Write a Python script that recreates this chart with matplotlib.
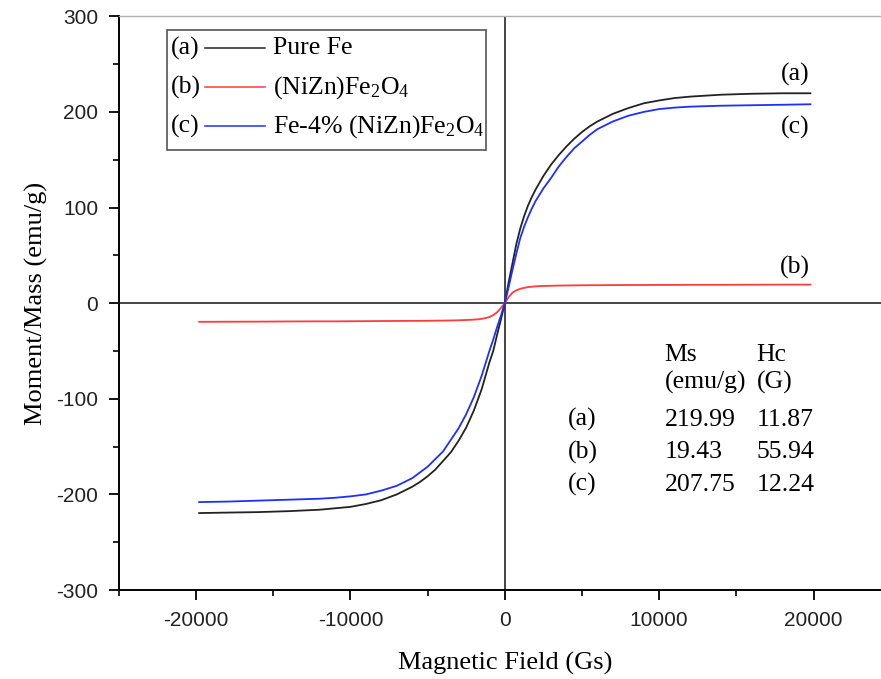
import numpy as np
import matplotlib.pyplot as plt
from matplotlib.patches import Rectangle
from matplotlib.ticker import MultipleLocator

plt.rcParams['mathtext.fontset'] = 'custom'
plt.rcParams['mathtext.rm'] = 'Liberation Serif'
plt.rcParams['mathtext.it'] = 'Liberation Serif:italic'
plt.rcParams['axes.unicode_minus'] = False

# applied field (Gs)
field = [-19800, -18000, -16000, -14000, -12000, -11000, -10000, -9000, -8000,
         -7000, -6000, -5500, -5000, -4500, -4000, -3500, -3000, -2500, -2000,
         -1750, -1500, -1250, -1000, -750, -500, -250, 0,
         250, 500, 750, 1000, 1250, 1500, 1750, 2000, 2500, 3000, 3500, 4000,
         4500, 5000, 5500, 6000, 7000, 8000, 9000, 10000, 11000, 12000, 14000,
         16000, 18000, 19800]

# moment/mass (emu/g)
pure_fe = [-219.5, -219, -218.5, -217.5, -216, -214.5, -213, -210, -206,
           -200, -192, -187, -181, -174, -165, -156, -144, -130, -112,
           -101, -90, -76, -62, -50, -33, -17, 0,
           22, 42, 62, 78, 91, 102, 111, 119, 133, 145, 155, 164,
           172, 179, 185, 190, 198, 204, 209, 212, 214.5, 216, 218,
           219, 219.5, 219.5]
nizn_ferrite = [-19.5, -19.4, -19.3, -19.1, -19.0, -19.0, -18.9, -18.8, -18.7,
                -18.6, -18.5, -18.5, -18.4, -18.3, -18.2, -18.1, -17.9, -17.6, -17.2,
                -16.9, -16.4, -15.6, -14.5, -12.5, -9.5, -5, 0,
                6.5, 11, 13.5, 15, 16, 16.8, 17.2, 17.6, 18.0, 18.2, 18.4, 18.5,
                18.6, 18.7, 18.8, 18.8, 18.9, 19.0, 19.0, 19.1, 19.1, 19.2, 19.2,
                19.3, 19.4, 19.4]
fe_4pct = [-208, -207.5, -206.5, -205.5, -204.5, -203.5, -202, -200, -196,
           -191, -183, -177, -171, -163, -155, -143, -131, -116, -98,
           -87, -76, -63, -50, -38, -25, -13, 0,
           17, 35, 52, 68, 80, 90, 99, 107, 120, 131, 143, 153,
           162, 169, 176, 182, 190, 196, 200, 203, 204.5, 205.5, 206.5,
           207, 207.5, 208]

tags = ['(a)', '(b)', '(c)']
names = ['Pure Fe', '(NiZn)Fe$_\\mathrm{2}$O$_\\mathrm{4}$',
         'Fe-4% (NiZn)Fe$_\\mathrm{2}$O$_\\mathrm{4}$']
colors = ['#222222', '#ff3b3b', '#1f2eff']
ms_vals = ['219.99', '19.43', '207.75']
hc_vals = ['11.87', '55.94', '12.24']

serif = 'Liberation Serif'
sans = 'Liberation Sans'
fs = 18.5

fig = plt.figure(figsize=(8.81, 6.79), dpi=100)
ax = fig.add_axes([0.135, 0.131, 0.876, 0.845])

ax.axhline(0, color='#444444', lw=1.4, zorder=1)
ax.axvline(0, color='#444444', lw=1.4, zorder=1)

for ys, c in zip([pure_fe, nizn_ferrite, fe_4pct], colors):
    ax.plot(field, ys, color=c, lw=1.3, zorder=3)

ax.set_xlim(-25000, 25000)
ax.set_ylim(-300, 300)
ax.xaxis.set_major_locator(MultipleLocator(10000))
ax.xaxis.set_minor_locator(MultipleLocator(5000))
ax.yaxis.set_major_locator(MultipleLocator(100))
ax.yaxis.set_minor_locator(MultipleLocator(50))
ax.tick_params(which='major', direction='out', length=7, width=1.3,
               labelsize=15, pad=8)
ax.tick_params(which='minor', direction='out', length=4, width=1.2)
for lab in ax.get_xticklabels() + ax.get_yticklabels():
    lab.set_fontfamily(sans)
    lab.set_color('#222222')

ax.spines['left'].set_linewidth(1.4)
ax.spines['bottom'].set_linewidth(1.4)
ax.spines['top'].set_color('#b0b0b0')
ax.spines['top'].set_linewidth(1.0)
ax.spines['right'].set_visible(False)

ax.set_xlabel('Magnetic Field (Gs)', family=serif, fontsize=19, labelpad=16)
ax.set_ylabel('Moment/Mass (emu/g)', family=serif, fontsize=19, labelpad=6)

# curve tags
ax.text(18800, 239, '(a)', family=serif, fontsize=fs, ha='center', va='center')
ax.text(18800, 184, '(c)', family=serif, fontsize=fs, ha='center', va='center')
ax.text(18800, 37.5, '(b)', family=serif, fontsize=fs, ha='center', va='center')

# legend box drawn by hand so the tag sits before the line
ax.add_patch(Rectangle((-21877, 160), 20647, 125.4, fill=False,
                       edgecolor='#555555', lw=1.2, zorder=4))
for i, (t, n, c) in enumerate(zip(tags, names, colors)):
    yy = 266.5 - i * 40.7
    ax.text(-21650, yy, t, family=serif, fontsize=fs, va='center')
    ax.plot([-19417, -15534], [yy, yy], color=c, lw=1.1, zorder=4)
    ax.text(-15016, yy, n, family=serif, fontsize=fs, va='center')

# Ms / Hc table
ax.text(10356, -54, 'Ms', family=serif, fontsize=fs, va='center')
ax.text(16311, -54, 'Hc', family=serif, fontsize=fs, va='center')
ax.text(10356, -83, '(emu/g)', family=serif, fontsize=fs, va='center')
ax.text(16311, -83, '(G)', family=serif, fontsize=fs, va='center')
for i, (t, m, h) in enumerate(zip(tags, ms_vals, hc_vals)):
    yy = -122 - i * 34
    ax.text(4100, yy, t, family=serif, fontsize=fs, va='center')
    ax.text(10356, yy, m, family=serif, fontsize=fs, va='center')
    ax.text(16311, yy, h, family=serif, fontsize=fs, va='center')

fig.savefig('out.png', dpi=100)
